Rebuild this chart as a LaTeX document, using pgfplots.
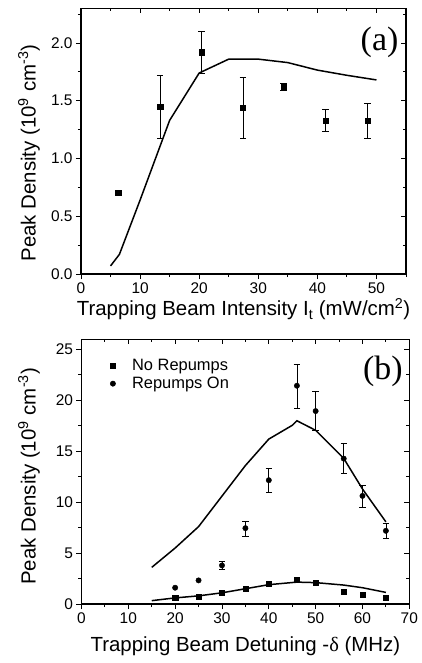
\documentclass[border=0pt]{standalone}
\usepackage{pgfplots}
\pgfplotsset{compat=1.18}
\usepackage{fontspec}
\setmainfont{Liberation Sans}
\newfontfamily\serif{Liberation Serif}

\pgfplotsset{
  base/.style={
    scale only axis,
    axis line style={line width=1.1bp},
    tick style={line width=0.9bp, black},
    major tick length=5bp,
    minor tick length=3bp,
    tick align=outside,
    xtick pos=left, ytick pos=left,
    /pgf/number format/assume math mode=true,
    ticklabel style={font=\fontsize{15.5}{15.5}\selectfont},
    label style={font=\fontsize{20.5}{20.5}\selectfont},
    clip=false,
  },
  over/.style={
    scale only axis,
    axis line style={draw=none},
    tick style={line width=0.9bp, black},
    major tick length=5bp,
    minor tick length=3bp,
    tick align=inside,
    xtick pos=right, ytick pos=right,
    xticklabels={}, yticklabels={},
  },
  curve/.style={black, line width=1.5bp, no marks},
  sq/.style={only marks, mark=square*, mark size=2.6bp, black},
  ci/.style={only marks, mark=*, mark size=2.7bp, black},
  eb/.style={error bars/.cd, y dir=both, y explicit,
    error bar style={line width=0.7bp, black},
    error mark options={rotate=90, mark size=3.2bp, line width=0.7bp, black}, /pgfplots/.cd},
}

\begin{document}
\begin{tikzpicture}

% ---------------- panel (a)
\begin{axis}[base,
  at={(81bp,-274bp)}, anchor=south west, width=325bp, height=265.7bp,
  xmin=0, xmax=55, ymin=0, ymax=2.3,
  xtick={0,10,...,50}, minor xtick={5,15,...,55},
  ytick={0,0.5,...,2.0}, minor ytick={0.25,0.75,...,2.25},
  yticklabel style={/pgf/number format/.cd, fixed, fixed zerofill, precision=1},
  xlabel={Trapping Beam Intensity I\textsubscript{t} (mW/cm\textsuperscript{2})},
  ylabel={Peak Density (10\textsuperscript{9} cm\textsuperscript{-3})},
  xlabel style={at={(axis description cs:0.5,-0.158)}, anchor=base},
  ylabel style={at={(axis description cs:-0.16,0.455)}, anchor=center},
]
\addplot[curve] coordinates {(5,0.07)(6.5,0.17)(10,0.64)(15,1.33)(20,1.74)(25,1.86)(30,1.86)(35,1.83)(40,1.765)(45,1.72)(50,1.68)};
\addplot[sq] coordinates {(6.3,0.705)};
\addplot[sq, eb] coordinates {
  (13.4,1.451) += (0,0.27) -= (0,0.275)
  (20.4,1.92) += (0,0.18) -= (0,0.185)
  (27.4,1.442) += (0,0.258) -= (0,0.266)
  (34.3,1.624) += (0,0.03) -= (0,0.03)
  (41.4,1.329) += (0,0.096) -= (0,0.098)
  (48.5,1.329) += (0,0.148) -= (0,0.153)
};
\node[font=\serif\fontsize{34}{34}\selectfont, inner sep=0pt, anchor=east] at (rel axis cs:0.977,0.873) {(a)};
\end{axis}
\begin{axis}[over,
  at={(81bp,-274bp)}, anchor=south west, width=325bp, height=265.7bp,
  xmin=0, xmax=55, ymin=0, ymax=2.3,
  xtick={0,10,...,50}, minor xtick={5,15,...,55},
  ytick={0,0.5,...,2.0}, minor ytick={0.25,0.75,...,2.25},
]
\end{axis}

% ---------------- panel (b)
\begin{axis}[base,
  at={(81.5bp,-604bp)}, anchor=south west, width=327.8bp, height=264.7bp,
  xmin=0, xmax=70, ymin=0, ymax=26,
  xtick={0,10,...,70}, minor xtick={5,15,...,65},
  ytick={0,5,...,25}, minor ytick={2.5,7.5,...,22.5},
  xlabel={Trapping Beam Detuning -{\serif δ} (MHz)},
  ylabel={Peak Density (10\textsuperscript{9} cm\textsuperscript{-3})},
  xlabel style={at={(axis description cs:0.5,-0.181)}, anchor=base},
  ylabel style={at={(axis description cs:-0.16,0.482)}, anchor=center},
  legend style={draw=none, fill=none, at={(axis description cs:0.058,0.94)}, anchor=north west,
    font=\fontsize{16.5}{16.5}\selectfont, row sep=1bp},
  legend cell align=left,
  legend image code/.code={\path (0,0) (26bp,0); \draw[#1] plot coordinates {(9bp,0)};},
]
\addplot[sq] coordinates {(20,0.62)(25,0.72)(30,1.08)(35,1.54)(40,2.03)(46,2.35)(50,2.09)(56,1.24)(60,0.88)(65,0.62)};
\addlegendentry{No Repumps}
\addplot[ci] coordinates {(20,1.6)(25,2.32)};
\addlegendentry{Repumps On}
\addplot[ci, forget plot, eb] coordinates {
  (30,3.79) += (0,0.37) -= (0,0.37)
  (35,7.45) += (0,0.69) -= (0,0.78)
  (40,12.16) += (0,1.21) -= (0,1.24)
  (46,21.44) += (0,2.06) -= (0,2.26)
  (50,18.95) += (0,1.9) -= (0,1.89)
  (56,14.28) += (0,1.47) -= (0,1.4)
  (60,10.62) += (0,1.01) -= (0,1.08)
  (65,7.19) += (0,0.71) -= (0,0.75)
};
\addplot[curve, forget plot] coordinates {(15,3.6)(20,5.5)(25,7.6)(30,10.6)(35,13.6)(40,16.2)(45,17.55)(46,18.0)(50,17.06)(56,14.3)(60,11.3)(65,8.07)};
\addplot[curve, forget plot] coordinates {(15,0.33)(20,0.6)(25,0.8)(30,1.1)(35,1.5)(40,1.9)(46,2.15)(50,2.1)(56,1.86)(60,1.6)(65,1.14)};
\node[font=\serif\fontsize{34}{34}\selectfont, inner sep=0pt, anchor=east] at (rel axis cs:0.98,0.880) {(b)};
\end{axis}
\begin{axis}[over,
  at={(81.5bp,-604bp)}, anchor=south west, width=327.8bp, height=264.7bp,
  xmin=0, xmax=70, ymin=0, ymax=26,
  xtick={0,10,...,70}, minor xtick={5,15,...,65},
  ytick={0,5,...,25}, minor ytick={2.5,7.5,...,22.5},
]
\end{axis}
\pgfresetboundingbox
\path[use as bounding box] (0bp,0bp) rectangle (422bp,-663bp);
\end{tikzpicture}
\end{document}
